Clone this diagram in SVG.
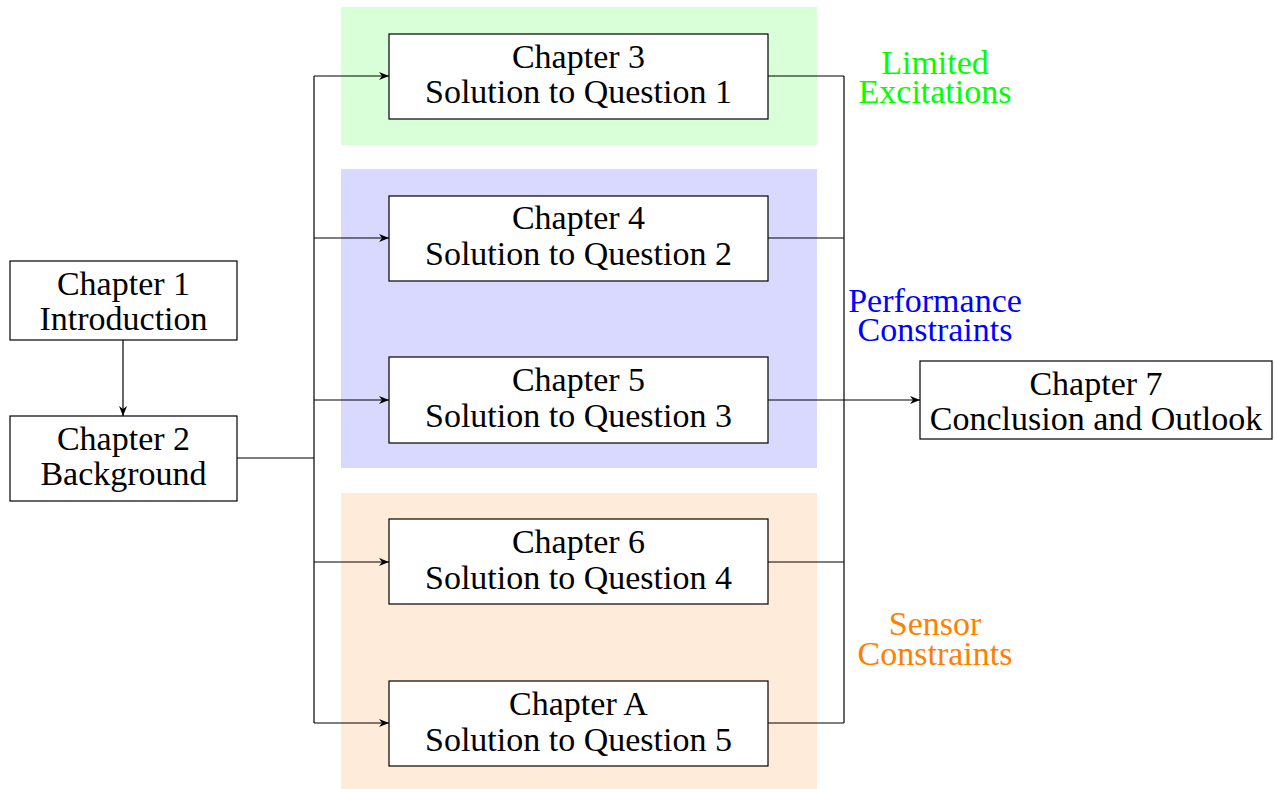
<svg xmlns="http://www.w3.org/2000/svg" width="1275" height="789" viewBox="0 0 1275 789">
<style>
.box{fill:#fff;stroke:#000;stroke-width:1.2}
text{font-family:"Liberation Serif","Times New Roman",serif;font-size:34px;text-anchor:middle;fill:#000}
.lbl-g{fill:#00ff00}
.lbl-b{fill:#0000ff}
.lbl-o{fill:#ff8000}
.wire{fill:none;stroke:#000;stroke-width:1.2}
</style>
<defs>
<marker id="arr" viewBox="0 0 10 10" refX="10" refY="5" markerWidth="10" markerHeight="10" markerUnits="userSpaceOnUse" orient="auto">
<path d="M0,1 L10,5 L0,9 L3,5 Z" fill="#000"/>
</marker>
</defs>
<rect width="1275" height="789" fill="#fff"/>
<g id="bands">
<rect x="341" y="7" width="476" height="138" fill="#d9ffd9"/>
<rect x="341" y="169" width="476" height="299" fill="#d9d9ff"/>
<rect x="341" y="493" width="476" height="296" fill="#ffebd9"/>
</g>
<g id="connectors">
<path class="wire" d="M123,340 L123,416" marker-end="url(#arr)"/>
<path class="wire" d="M237,458 L314,458"/>
<path class="wire" d="M314,76 L314,723"/>
<path class="wire" d="M314,76 L389,76" marker-end="url(#arr)"/>
<path class="wire" d="M314,238 L389,238" marker-end="url(#arr)"/>
<path class="wire" d="M314,400 L389,400" marker-end="url(#arr)"/>
<path class="wire" d="M314,562 L389,562" marker-end="url(#arr)"/>
<path class="wire" d="M314,723 L389,723" marker-end="url(#arr)"/>
<path class="wire" d="M844,76 L844,723"/>
<path class="wire" d="M768,76 L844,76"/>
<path class="wire" d="M768,238 L844,238"/>
<path class="wire" d="M768,562 L844,562"/>
<path class="wire" d="M768,723 L844,723"/>
<path class="wire" d="M768,400 L920,400" marker-end="url(#arr)"/>
</g>
<g id="ch1"><rect class="box" x="10" y="261" width="227" height="79"/><text x="123.5" y="295">Chapter 1</text><text x="123.5" y="330">Introduction</text></g>
<g id="ch2"><rect class="box" x="10" y="416" width="227" height="85"/><text x="123.5" y="450">Chapter 2</text><text x="123.5" y="485">Background</text></g>
<g id="ch3"><rect class="box" x="389" y="34" width="379" height="85"/><text x="578.5" y="68">Chapter 3</text><text x="578.5" y="103">Solution to Question 1</text></g>
<g id="ch4"><rect class="box" x="389" y="196" width="379" height="85"/><text x="578.5" y="229">Chapter 4</text><text x="578.5" y="265">Solution to Question 2</text></g>
<g id="ch5"><rect class="box" x="389" y="357" width="379" height="86"/><text x="578.5" y="391">Chapter 5</text><text x="578.5" y="427">Solution to Question 3</text></g>
<g id="ch6"><rect class="box" x="389" y="519" width="379" height="85"/><text x="578.5" y="553">Chapter 6</text><text x="578.5" y="589">Solution to Question 4</text></g>
<g id="chA"><rect class="box" x="389" y="681" width="379" height="85"/><text x="578.5" y="715">Chapter A</text><text x="578.5" y="751">Solution to Question 5</text></g>
<g id="ch7"><rect class="box" x="920" y="361" width="352" height="78"/><text x="1096" y="395">Chapter 7</text><text x="1096" y="430">Conclusion and Outlook</text></g>
<g id="label-limited"><text class="lbl-g"><tspan x="935" y="74">Limited</tspan><tspan x="935" y="103">Excitations</tspan></text></g>
<g id="label-performance"><text class="lbl-b"><tspan x="935" y="312">Performance</tspan><tspan x="935" y="341">Constraints</tspan></text></g>
<g id="label-sensor"><text class="lbl-o"><tspan x="935" y="635">Sensor</tspan><tspan x="935" y="665">Constraints</tspan></text></g>
</svg>
